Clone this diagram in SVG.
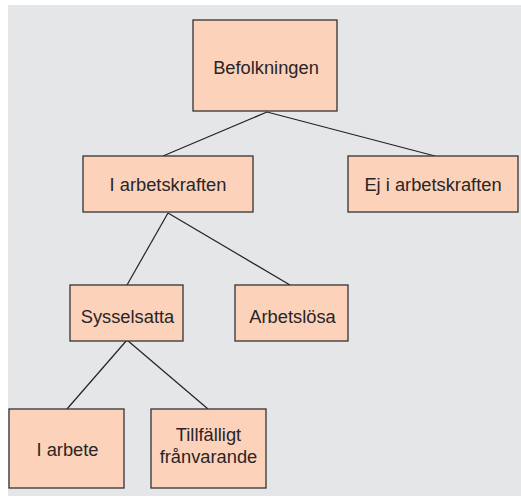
<svg xmlns="http://www.w3.org/2000/svg" width="521" height="497" viewBox="0 0 521 497">
<style>
.bg{fill:#e5e6e8}
.box{fill:#fcd2bb;stroke:#333;stroke-width:1.3}
.lbl{font-family:"Liberation Sans",Arial,sans-serif;font-size:18.3px;fill:#2a2526;text-anchor:middle}
.edge{stroke:#222;stroke-width:1.2;fill:none}
</style>
<rect class="bg" x="8" y="5" width="513" height="491"/>
<g id="connectors">
<line class="edge" x1="267" y1="112" x2="163" y2="156"/>
<line class="edge" x1="267" y1="112" x2="435" y2="156"/>
<line class="edge" x1="168" y1="213" x2="127" y2="285"/>
<line class="edge" x1="168" y1="213" x2="290" y2="285"/>
<line class="edge" x1="127" y1="340" x2="67" y2="409"/>
<line class="edge" x1="127" y1="340" x2="208" y2="409"/>
</g>
<g id="befolkningen">
<rect class="box" x="193" y="20" width="144" height="91"/>
<text class="lbl" x="266" y="74">Befolkningen</text>
</g>
<g id="i-arbetskraften">
<rect class="box" x="83" y="156" width="170" height="56"/>
<text class="lbl" x="168" y="190.5">I arbetskraften</text>
</g>
<g id="ej-i-arbetskraften">
<rect class="box" x="348" y="156" width="170" height="56"/>
<text class="lbl" x="433" y="190.5">Ej i arbetskraften</text>
</g>
<g id="sysselsatta">
<rect class="box" x="70" y="285" width="113" height="56"/>
<text class="lbl" x="127.5" y="323">Sysselsatta</text>
</g>
<g id="arbetslosa">
<rect class="box" x="235" y="285" width="113" height="56"/>
<text class="lbl" x="292.5" y="323">Arbetslösa</text>
</g>
<g id="i-arbete">
<rect class="box" x="9" y="409" width="115" height="79"/>
<text class="lbl" x="67.5" y="456">I arbete</text>
</g>
<g id="tillfalligt">
<rect class="box" x="151" y="409" width="115" height="79"/>
<text class="lbl" x="208.5" y="440.5">Tillfälligt</text>
<text class="lbl" x="208.5" y="463.3">frånvarande</text>
</g>
</svg>
